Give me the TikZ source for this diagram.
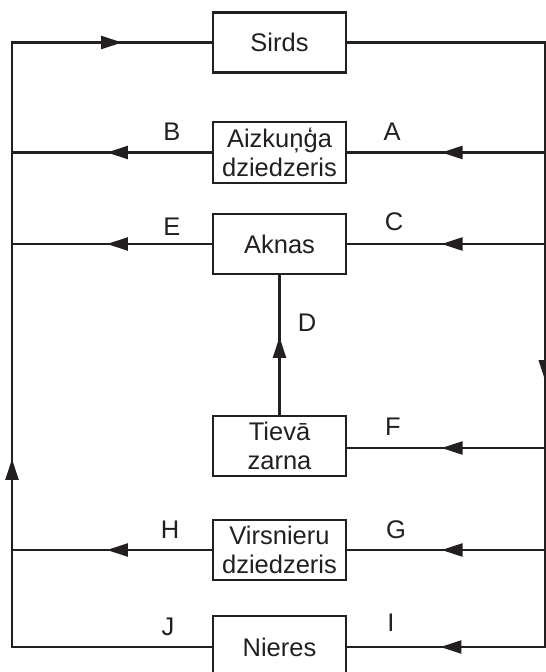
\documentclass[tikz,border=0pt]{standalone}
\usepackage{fontspec}
\setmainfont{Liberation Sans}
\usetikzlibrary{arrows.meta,decorations.markings,calc}
\definecolor{ink}{HTML}{231F20}
\tikzset{
  organ/.style={draw=ink, line width=2.2pt, minimum width=133pt, minimum height=60pt,
    inner sep=0pt, align=center, text=ink,
    font=\fontsize{25.5}{29}\selectfont},
  flow/.style={draw=ink, line width=2.2pt},
  tag/.style={text=ink, inner sep=0pt, font=\fontsize{25.5}{29}\selectfont},
  headat/.style={postaction={decorate, decoration={markings,
    mark=at position #1 with {\arrow{Triangle[length=21pt,width=13pt]}}}}},
}
\begin{document}
\begin{tikzpicture}[x=1pt, y=-1pt, color=ink]
\useasboundingbox (0,0) rectangle (546,672);
\clip (0,0) rectangle (546,672);

% organs
\node[organ] (sirds) at (279.5,42.5) {Sirds};
\node[organ, minimum height=61pt] (aiz) at (279.5,152.5) {Aizkuņģa\\dziedzeris};
\node[organ] (akn) at (279.5,244) {Aknas};
\node[organ] (tz) at (279.5,446) {Tievā\\zarna};
\node[organ] (virs) at (279.5,550) {Virsnieru\\dziedzeris};
\node[organ, minimum height=62pt] (nier) at (279.5,647) {Nieres};

% trunk lines
\coordinate (LT) at (12,42.5);
\coordinate (LB) at (12,647);
\coordinate (RT) at (545.3,42.5);
\coordinate (RB) at (545.3,647);

% return trunk on the left, back to the heart
\draw[flow, headat=388pt, headat=914.5pt] (nier.west) -- (LB) -- (LT) -- (sirds.west);
% supply trunk on the right, from the heart
\draw[flow, headat=536.8pt, headat=907.6pt] (sirds.east) -- (RT) -- (RB) -- (nier.east);

% supply branches
\draw[flow, headat=103.8pt] (aiz.east -| RT) -- (aiz.east);
\draw[flow, headat=103.8pt] (akn.east -| RT) -- (akn.east);
\draw[flow, headat=103.8pt] ($(tz.east -| RT)+(0,2)$) -- ($(tz.east)+(0,2)$);
\draw[flow, headat=103.8pt] (virs.east -| RT) -- (virs.east);

% return branches
\draw[flow, headat=105pt] (aiz.west) -- (aiz.west -| LT);
\draw[flow, headat=105pt] (akn.west) -- (akn.west -| LT);
\draw[flow, headat=105pt] (virs.west) -- (virs.west -| LT);

% portal vein
\draw[flow, headat=78pt] (tz.north) -- (akn.south);

% vessel labels
\node[tag] at (172,132) {B};
\node[tag] at (392,132) {A};
\node[tag] at (172,227) {E};
\node[tag] at (394,222) {C};
\node[tag] at (307,323) {D};
\node[tag] at (393,427) {F};
\node[tag] at (170,530) {H};
\node[tag] at (396,530) {G};
\node[tag] at (168,627) {J};
\node[tag] at (391,623) {I};
\end{tikzpicture}
\end{document}
